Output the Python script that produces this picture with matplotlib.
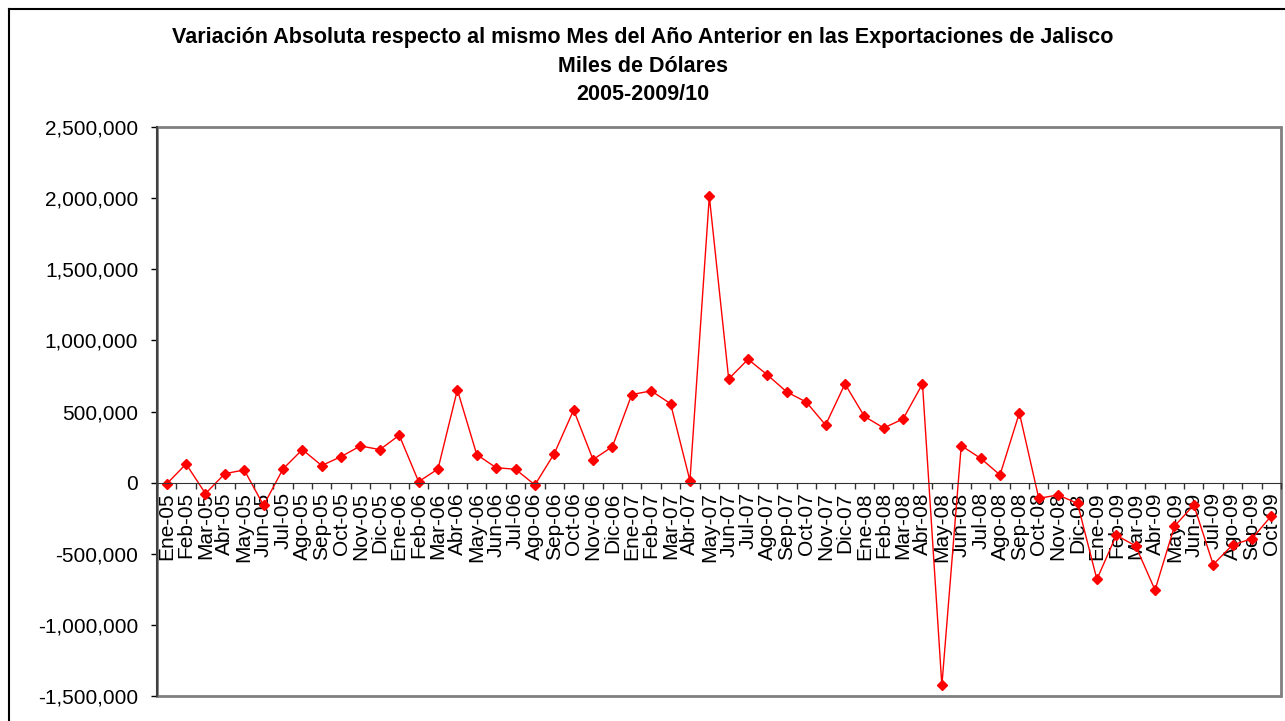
import matplotlib.pyplot as plt
import matplotlib.ticker as mticker
from matplotlib.lines import Line2D
from matplotlib.patches import Rectangle
import numpy as np

plt.rcParams['font.family'] = ['Liberation Sans', 'DejaVu Sans']

# Month labels and absolute change values (thousands of dollars)
months = ["Ene", "Feb", "Mar", "Abr", "May", "Jun",
          "Jul", "Ago", "Sep", "Oct", "Nov", "Dic"]
years = ["05", "06", "07", "08", "09"]
labels = [f"{m}-{y}" for y in years for m in months][:58]

values = [
    -9000, 131000, -77000, 63000, 89000, -160000,
    96000, 232000, 120000, 183000, 258000, 232000,          # 2005
    333000, 7000, 96000, 652000, 197000, 105000,
    94000, -16000, 204000, 511000, 162000, 253000,          # 2006
    619000, 645000, 555000, 14000, 2013000, 729000,
    867000, 757000, 637000, 567000, 405000, 694000,         # 2007
    466000, 384000, 448000, 694000, -1425000, 260000,
    171000, 54000, 490000, -110000, -87000, -146000,        # 2008
    -680000, -370000, -445000, -755000, -307000, -157000,
    -576000, -438000, -394000, -234000,                     # 2009
]

title_lines = ["Variación Absoluta respecto al mismo Mes del Año Anterior en las Exportaciones de Jalisco",
               "Miles de Dólares",
               "2005-2009/10"]

fig = plt.figure(figsize=(12.85, 7.21), dpi=100)
ax = fig.add_axes([157 / 1285, 1 - 696 / 721, (1281 - 157) / 1285, (696 - 127) / 721])

x = np.arange(len(values))
ax.plot(x, values, color="#ff0000", lw=1, marker="D", markersize=5,
        markerfacecolor="#ff0000", markeredgecolor="#ff0000")

ax.set_xlim(-0.5, len(values) - 0.5)
ax.set_ylim(-1500000, 2500000)
ax.yaxis.set_major_locator(mticker.MultipleLocator(500000))
ax.yaxis.set_major_formatter(mticker.FuncFormatter(lambda v, p: f"{int(v):,}"))
ax.tick_params(axis="y", direction="out", length=4.5, width=1, pad=9, labelsize=15)

# category axis crossing at zero
ax.spines["bottom"].set_position(("data", 0))
ax.set_xticks(np.arange(len(values) + 1) - 0.5)
ax.set_xticklabels([])
ax.set_xticks(x, minor=True)
ax.set_xticklabels(labels, minor=True, rotation=90, fontsize=15, va="top", ha="center")
ax.tick_params(axis="x", which="major", direction="out", length=4.5, width=1, color="#333333")
ax.tick_params(axis="x", which="minor", length=0, pad=7)

for s in ["top", "right"]:
    ax.spines[s].set_visible(False)
ax.spines["left"].set_color("#404040")
ax.spines["left"].set_linewidth(1.5)
ax.spines["bottom"].set_color("#333333")
ax.add_patch(Rectangle((0, 0), 1, 1, transform=ax.transAxes, fill=False,
                       edgecolor="#808080", lw=2, clip_on=False, zorder=0))

# outer chart frame (left and top edges)
fig.add_artist(Line2D([9 / 1285, 9 / 1285], [0, 1 - 9 / 721], transform=fig.transFigure, color="black", lw=1.5))
fig.add_artist(Line2D([9 / 1285, 1], [1 - 9 / 721, 1 - 9 / 721], transform=fig.transFigure, color="black", lw=1.5))

for i, line in enumerate(title_lines):
    fig.text(0.5, 1 - (38 + 28 * i) / 721, line, ha="center", va="center",
             fontsize=15.5, fontweight="bold")

fig.savefig("out.png", dpi=100)
